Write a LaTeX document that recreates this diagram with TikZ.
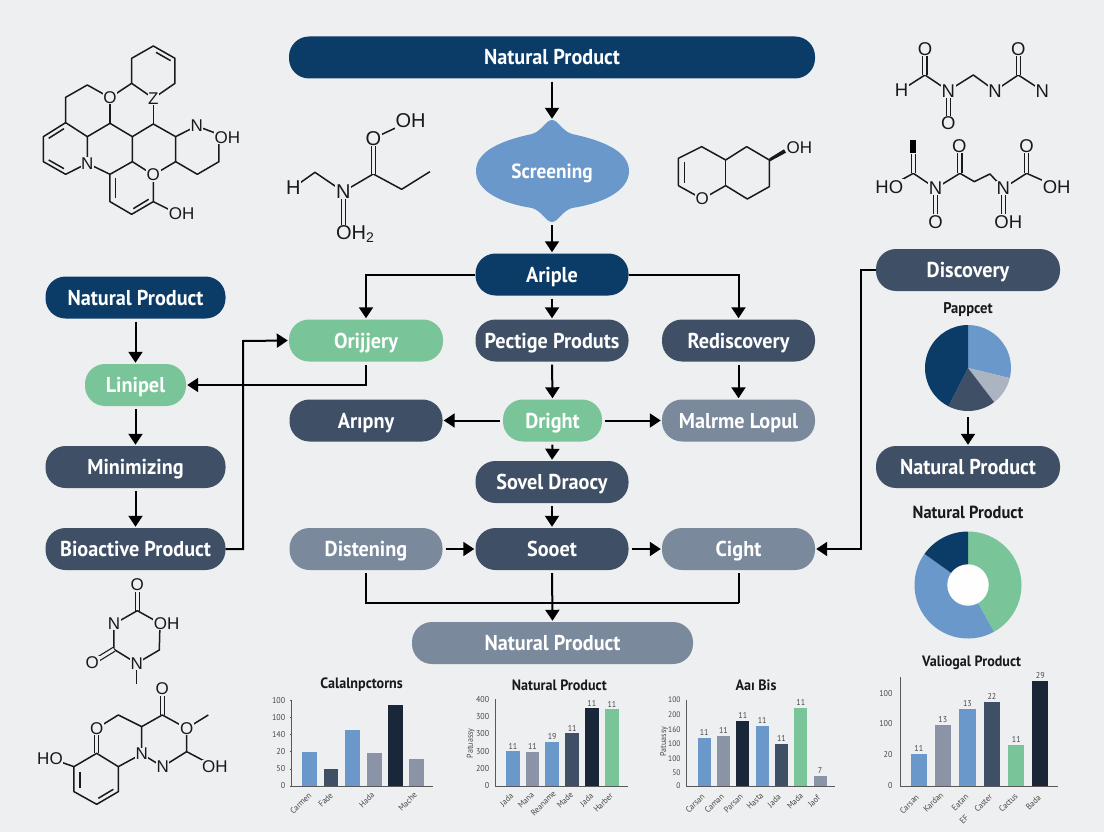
\documentclass[tikz,border=0pt]{standalone}
\usepackage{fontspec}
\setmainfont{PT Sans}[FakeStretch=0.94]
\newfontfamily\atomfont{Liberation Sans}
\usetikzlibrary{arrows.meta}
\definecolor{paper}{RGB}{238,239,240}
\definecolor{navy}{RGB}{11,60,104}
\definecolor{slate}{RGB}{63,79,102}
\definecolor{steel}{RGB}{122,137,156}
\definecolor{mint}{RGB}{121,196,152}
\definecolor{sky}{RGB}{107,152,203}
\definecolor{ink}{RGB}{26,39,56}
\definecolor{ash}{RGB}{138,148,166}
\tikzset{
  pill/.style={rectangle,rounded corners=20pt,minimum height=42,inner sep=0pt,text=white,text height=15pt,text depth=0pt,font=\fontsize{21.5}{24}\selectfont\bfseries},
  flow/.style={line width=2pt,->,shorten <=3pt,shorten >=1pt},
  plain/.style={line width=2pt,shorten <=3pt},
  bond/.style={line width=1.5pt,black!90,line join=round},
  dbond/.style={bond,double=paper,double distance=3pt,line width=1.2pt},
  atom/.style={inner sep=0.6pt,fill=paper,text=black!90,font=\atomfont\fontsize{17}{17}\selectfont},
  title/.style={inner sep=0pt,text=black!90,font=\fontsize{15}{16}\selectfont\bfseries},
  tick/.style={inner sep=0pt,text=black!72,font=\fontsize{8.5}{9}\selectfont},
  axisline/.style={line width=0.9pt,black!65}
}
\begin{document}
\begin{tikzpicture}[x=1pt,y=-1pt,>={Triangle[length=11pt,width=14pt]}]
\useasboundingbox (0,0) rectangle (1104,832);
\fill[paper] (0,0) rectangle (1104,832);

% main column
\fill[sky] (552,120) .. controls (558,120) and (562,131) .. (572,134) .. controls (605,141) and (629,152) .. (629,171)
  .. controls (629,190) and (605,203) .. (572,208) .. controls (562,211) and (558,222) .. (552,222)
  .. controls (546,222) and (542,211) .. (532,208) .. controls (499,203) and (476,190) .. (476,171)
  .. controls (476,152) and (499,141) .. (532,134) .. controls (542,131) and (546,120) .. (552,120) -- cycle;
\node[pill,fill=navy,minimum width=526] (ntop) at (552,57.5) {Natural Product};
\node[pill,minimum width=153,minimum height=102,font=\fontsize{20.5}{24}\selectfont\bfseries] (screen) at (552,171) {Screening};
\node[pill,fill=navy,minimum width=153] (ariple) at (552,274.5) {Ariple};
\node[pill,fill=mint,minimum width=154] (orijjery) at (366,340.5) {Orijjery};
\node[pill,fill=slate,minimum width=153] (pectige) at (552,340.5) {Pectige Produts};
\node[pill,fill=slate,minimum width=153] (rediscovery) at (738.5,340.5) {Rediscovery};
\node[pill,fill=slate,minimum width=153] (aripny) at (366,420.5) {Arıpny};
\node[pill,fill=mint,minimum width=99] (dright) at (552.5,420.5) {Dright};
\node[pill,fill=steel,minimum width=153] (malrme) at (738.5,420.5) {Malrme Lopul};
\node[pill,fill=slate,minimum width=153] (sovel) at (552,482) {Sovel Draocy};
\node[pill,fill=steel,minimum width=153] (distening) at (366,549) {Distening};
\node[pill,fill=slate,minimum width=153] (sooet) at (552,549) {Sooet};
\node[pill,fill=steel,minimum width=153] (cight) at (738.5,549) {Cight};
\node[pill,fill=steel,minimum width=281] (nbottom) at (552.5,643) {Natural Product};

% left column
\node[pill,fill=navy,minimum width=180] (nleft) at (135.5,297.5) {Natural Product};
\node[pill,fill=mint,minimum width=101] (linipel) at (135.5,385) {Linipel};
\node[pill,fill=slate,minimum width=180] (minimizing) at (135.5,467) {Minimizing};
\node[pill,fill=slate,minimum width=180] (bioactive) at (135.5,549) {Bioactive Product};

% right column
\node[pill,fill=slate,minimum width=184] (discovery) at (968,270) {Discovery};
\node[pill,fill=slate,minimum width=184] (nright) at (968,467) {Natural Product};
\node[title,font=\fontsize{15.5}{16}\selectfont\bfseries] (pappcet) at (968,310) {Pappcet};
\node[title,font=\fontsize{17.5}{18}\selectfont\bfseries] (ntitle) at (968,512) {Natural Product};
\coordinate (piebottom) at (968,414);
\coordinate (leftbus) at (243,341);
\coordinate (rightbus) at (861,549);
\coordinate (leftdrop) at (366,603);
\coordinate (rightdrop) at (738.5,603);

\foreach \a/\b in {ntop/screen,screen/ariple,ariple/pectige,pectige/dright,dright/sovel,sovel/sooet,rediscovery/malrme,nleft/linipel,linipel/minimizing,minimizing/bioactive,sooet/nbottom}{
  \draw[flow] (\a.south) -- (\b.north);
}
\foreach \a/\b in {distening/sooet,sooet/cight,dright/malrme}{
  \draw[flow] (\a.east) -- (\b.west);
}
\draw[flow] (dright.west) -- (aripny.east);
\draw[flow,shorten <=0pt] (ariple.west) -| (orijjery.north);
\draw[flow,shorten <=0pt] (ariple.east) -| (rediscovery.north);
\draw[flow] (orijjery.south) |- (linipel.east);
\draw[flow,shorten <=0pt] (bioactive.east) -| (leftbus) -- (orijjery.west);
\draw[flow,shorten <=0pt] (discovery.west) -| (rightbus) -- (cight.east);
\draw[flow] (piebottom) -- (nright.north);
\draw[plain] (distening.south) -- (leftdrop) -- (rightdrop);
\draw[plain] (cight.south) -- (rightdrop);

% pie
\begin{scope}[shift={(968,368)},x=1pt,y=1pt]
\foreach \s/\e/\c in {90/-13.5/sky,-13.5/-52.6/ash!70,-52.6/-117/slate,-117/-270/navy}{
  \fill[\c] (0,0) -- (\s:43) arc[start angle=\s,end angle=\e,radius=43pt] -- cycle;
}
\end{scope}

% donut
\begin{scope}[shift={(968,585)},x=1pt,y=1pt]
\foreach \s/\e/\c in {90/-61/mint,-61/-215.6/sky,144.4/90/navy}{
  \fill[\c] (0,0) -- (\s:53.5) arc[start angle=\s,end angle=\e,radius=53.5pt] -- cycle;
}
\fill[white!96!paper] (0,0) circle (20.7);
\end{scope}

% molecule top left
\begin{scope}[shift={(0,20)},x=0.3333pt,y=-0.3333pt]
\draw[bond] (460,235) -- (525,190) -- (525,115) -- (460,78) -- (395,115) -- (395,190) -- (460,235);
\draw[bond] (468,97) -- (512,122);
\draw[bond] (395,190) -- (330,233) -- (262,195) -- (197,232) -- (197,308) -- (262,350) -- (330,310) -- (397,350) -- (460,312) -- (527,350) -- (590,318) -- (680,352);
\draw[bond] (330,233) -- (330,310);
\draw[bond] (460,235) -- (460,312);
\draw[bond] (397,350) -- (397,425) -- (460,465) -- (527,425) -- (527,350);
\draw[bond] (527,425) -- (592,463) -- (657,425) -- (657,352);
\draw[bond] (262,350) -- (262,430) -- (197,463) -- (130,425) -- (130,350) -- (197,308);
\draw[bond] (146,355) -- (192,326);
\draw[bond] (146,420) -- (192,446);
\draw[bond] (262,430) -- (330,463) -- (397,425);
\draw[bond] (330,463) -- (330,545) -- (395,583) -- (460,545) -- (460,465);
\draw[bond] (346,475) -- (346,535);
\draw[bond] (400,566) -- (446,538);
\draw[bond] (460,545) -- (530,580);
\foreach \p/\q/\t [count=\i] in {330/233/O,460/235/Z,590/318/N,262/430/N,460/465/O,682/352/OH,545/580/OH}{
  \node[atom] (moa\i) at (\p,\q) {\t};
}
\end{scope}

% molecule top middle
\begin{scope}[shift={(0,20)},x=0.3333pt,y=-0.3333pt]
\draw[bond] (880,503) -- (945,457) -- (1030,515) -- (1120,462) -- (1205,508) -- (1290,455);
\draw[dbond] (1120,462) -- (1120,355);
\draw[bond] (1120,355) -- (1232,303);
\draw[dbond] (1030,515) -- (1030,620);
\foreach \p/\q/\t [count=\i] in {880/503/H,1030/515/N,1120/355/O,1232/303/OH}{
  \node[atom,font=\atomfont\fontsize{20}{20}\selectfont] (mob\i) at (\p,\q) {\t};
}
\node[atom,font=\atomfont\fontsize{20}{20}\selectfont] (mob5) at (1065,642) {OH\raisebox{-3pt}{\fontsize{14}{14}\selectfont 2}};
\end{scope}

% molecule top centre right
\begin{scope}[shift={(640,20)},x=0.3333pt,y=-0.3333pt]
\draw[bond] (115,497) -- (115,415) -- (185,380) -- (257,420) -- (320,380) -- (388,420) -- (388,500) -- (322,537) -- (257,497) -- (187,537) -- (115,497);
\draw[bond] (257,420) -- (257,497);
\draw[bond] (133,425) -- (133,488);
\fill[black!90] (388,415) -- (432,388) -- (438,398) -- (390,424) -- cycle;
\foreach \p/\q/\t [count=\i] in {187/537/O,478/382/OH}{
  \node[atom] (moc\i) at (\p,\q) {\t};
}
\end{scope}

% molecules top right
\begin{scope}[shift={(640,20)},x=0.3333pt,y=-0.3333pt]
\draw[bond] (785,210) -- (855,165) -- (925,212) -- (1000,165) -- (1065,212) -- (1135,165) -- (1207,212);
\draw[dbond] (855,165) -- (855,87);
\draw[dbond] (1135,165) -- (1135,87);
\draw[dbond] (925,212) -- (925,310);
\draw[bond] (748,500) -- (820,460) -- (887,505) -- (960,460) -- (1003,485) -- (1050,462) -- (1090,505) -- (1160,460) -- (1250,500);
\draw[dbond] (820,460) -- (820,402);
\fill[black] (809,360) rectangle (827,400);
\draw[dbond] (960,460) -- (960,378);
\draw[dbond] (1160,460) -- (1160,378);
\draw[dbond] (887,505) -- (887,605);
\draw[dbond] (1090,505) -- (1090,605);
\foreach \p/\q/\t [count=\i] in {785/210/H,855/87/O,925/212/N,1065/212/N,1135/87/O,1207/212/N,925/310/O,748/500/HO,887/505/N,958/378/O,1090/505/N,1160/378/O,1250/500/OH,887/605/O,1105/605/OH}{
  \node[atom,font=\atomfont\fontsize{18.5}{19}\selectfont] (mod\i) at (\p,\q) {\t};
}
\end{scope}

% molecules bottom left
\begin{scope}[shift={(0,570)},x=0.3333pt,y=-0.3333pt]
\draw[dbond] (412,122) -- (412,45);
\draw[bond] (342,162) -- (412,122) -- (480,160) -- (478,240) -- (410,280) -- (342,238) -- (342,162);
\draw[dbond] (342,238) -- (277,278);
\draw[bond] (410,280) -- (410,342);
\draw[dbond] (487,435) -- (487,357);
\draw[bond] (425,552) -- (425,470) -- (487,435) -- (560,475) -- (625,435);
\draw[bond] (560,475) -- (560,545) -- (645,590);
\draw[bond] (560,545) -- (488,590) -- (425,552) -- (355,590);
\draw[bond] (425,470) -- (355,435) -- (290,475);
\draw[dbond] (290,475) -- (290,550);
\draw[bond] (150,565) -- (222,590) -- (290,550) -- (355,590);
\draw[bond] (222,590) -- (222,665) -- (290,703) -- (355,665) -- (355,590);
\draw[bond] (240,605) -- (240,655);
\draw[bond] (295,685) -- (340,658);
\foreach \p/\q/\t [count=\i] in {412/45/O,342/162/N,500/160/OH,410/280/N,277/278/O,487/357/O,560/475/O,290/475/O,425/552/N,488/590/N,645/590/OH,150/565/HO}{
  \node[atom] (moe\i) at (\p,\q) {\t};
}
\end{scope}

% chart one
\begin{scope}[shift={(260,670)},x=0.3333pt,y=-0.3333pt]
\foreach \a/\b/\t/\c in {127/172/247/sky,192/235/298/slate,255/300/180/sky,320/365/250/ash,384/430/105/ink,447/492/268/ash}{
  \fill[\c] (\a,348) rectangle (\b,\t);
}
\draw[axisline] (95,92) -- (95,348) -- (520,348);
\foreach \v/\t [count=\i] in {100/92,100/143,140/194,20/245,50/297,0/348}{
  \node[tick,anchor=east] (cat\i) at (76,\t) {\v};
  \draw[axisline] (89,\t) -- (95,\t);
}
\foreach \l/\p/\q [count=\i] in {Carmen/122/400,Fade/197/390,Hada/320/390,Mache/443/395}{
  \node[tick,rotate=45] (cax\i) at (\p,\q) {\l};
}
\node[title] (catitle) at (305,45) {Calalnpctorns};
\end{scope}

% chart two
\begin{scope}[shift={(260,670)},x=0.3333pt,y=-0.3333pt]
\foreach \a/\b/\t/\c/\v [count=\i] in {738/780/244/sky/11,797/838/245/ash/11,856/897/217/sky/19,916/957/190/slate/11,975/1016/115/ink/11,1035/1077/118/mint/11}{
  \fill[\c] (\a,348) rectangle (\b,\t);
  \node[tick] (cbv\i) at ({(\a+\b)/2},{\t-16}) {\v};
}
\draw[axisline] (705,88) -- (705,348) -- (1105,348);
\foreach \v/\t [count=\i] in {400/90,300/140,300/192,300/245,200/296,0/348}{
  \node[tick,anchor=east] (cbt\i) at (688,\t) {\v};
}
\foreach \l/\p/\q [count=\i] in {Jada/740/390,Mana/798/390,Reaname/850/400,Made/915/390,Jada/980/390,Harber/1030/398}{
  \node[tick,rotate=45] (cbx\i) at (\p,\q) {\l};
}
\node[tick,rotate=90] (cby) at (632,220) {Patuassy};
\node[title] (cbtitle) at (898,45) {Natural Product};
\end{scope}

% chart three
\begin{scope}[shift={(650,640)},x=0.3333pt,y=-0.3333pt]
\foreach \a/\b/\t/\c/\v [count=\i] in {143/182/295/sky/11,201/240/289/ash/11,259/298/243/ink/11,317/356/257/sky/11,375/414/313/slate/11,433/472/205/mint/11,491/530/409/ash/7}{
  \fill[\c] (\a,438) rectangle (\b,\t);
  \node[tick] (ccv\i) at ({(\a+\b)/2},{\t-17}) {\v};
}
\draw[axisline] (108,180) -- (108,438) -- (555,438);
\foreach \v/\t [count=\i] in {100/180,200/225,160/268,100/312,100/355,50/397,0/438}{
  \node[tick,anchor=east,font=\fontsize{8}{8}\selectfont] (cct\i) at (92,\t) {\v};
}
\foreach \l/\p/\q [count=\i] in {Carsan/135/490,Caman/193/490,Parsan/250/490,Hasta/315/483,Jada/373/483,Mada/435/483,Jaof/492/483}{
  \node[tick,rotate=45] (ccx\i) at (\p,\q) {\l};
}
\node[tick,rotate=90] (ccy) at (42,305) {Patuassy};
\node[title] (cctitle) at (318,135) {Aaı Bis};
\end{scope}

% chart four
\begin{scope}[shift={(650,640)},x=0.3333pt,y=-0.3333pt]
\foreach \a/\b/\t/\c/\v [count=\i] in {782/831/341/sky/11,855/902/255/ash/13,928/977/207/sky/13,1002/1050/185/slate/22,1075/1123/315/mint/11,1147/1195/123/ink/29}{
  \fill[\c] (\a,438) rectangle (\b,\t);
  \node[tick] (cdv\i) at ({(\a+\b)/2},{\t-17}) {\v};
}
\draw[axisline] (750,112) -- (750,438) -- (1225,438);
\foreach \v/\t [count=\i] in {100/160,100/252,20/345,0/438}{
  \node[tick,anchor=east] (cdt\i) at (728,\t) {\v};
}
\foreach \l/\p/\q [count=\i] in {Carsan/778/492,Kardan/850/487,Eatan/930/487,Caster/1000/490,Cactus/1075/488,Bada/1150/487,EF/942/538}{
  \node[tick,rotate=45] (cdx\i) at (\p,\q) {\l};
}
\node[title] (cdtitle) at (965,67) {Valiogal Product};
\end{scope}
\end{tikzpicture}
\end{document}
